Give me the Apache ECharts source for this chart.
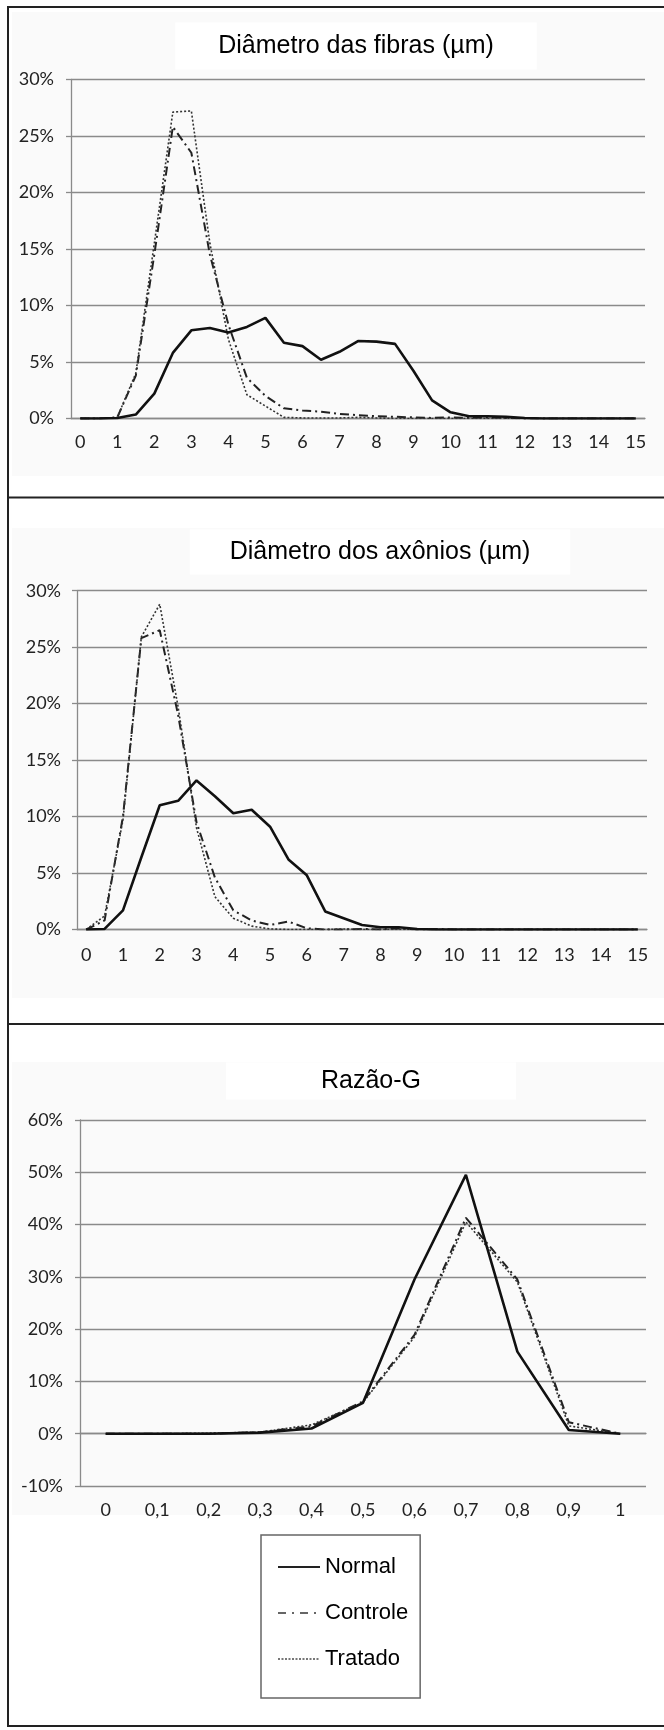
<!DOCTYPE html>
<html>
<head>
<meta charset="utf-8">
<script src="https://cdn.jsdelivr.net/npm/echarts@6/dist/echarts.min.js"></script>
<style>
  html, body { margin: 0; padding: 0; background: #fff; }
  #main { width: 664px; height: 1730px; }
</style>
</head>
<body>
<div id="main"></div>
<script>
// categories (µm in steps of 0.5, and g-ratio in steps of 0.1)
var halfSteps = ['0', '0,5', '1', '1,5', '2', '2,5', '3', '3,5', '4', '4,5', '5', '5,5',
  '6', '6,5', '7', '7,5', '8', '8,5', '9', '9,5', '10', '10,5', '11', '11,5', '12', '12,5',
  '13', '13,5', '14', '14,5', '15'];
var gCats = ['0', '0,1', '0,2', '0,3', '0,4', '0,5', '0,6', '0,7', '0,8', '0,9', '1'];

var seriesNames = ['Normal', 'Controle', 'Tratado'];

// Diâmetro das fibras (%)
var fibrasNormal = [0, 0, 0.05, 0.35, 2.2, 5.8, 7.8, 8.0, 7.6, 8.1, 8.9, 6.7, 6.4, 5.2, 5.9, 6.85,
  6.8, 6.6, 4.2, 1.6, 0.55, 0.2, 0.2, 0.15, 0.05, 0, 0, 0, 0, 0, 0];
var fibrasControle = [0, 0, 0.1, 3.8, 14.5, 25.8, 23.5, 14.5, 8.3, 3.6, 2.0, 0.9, 0.7, 0.6, 0.4, 0.3,
  0.2, 0.15, 0.1, 0.05, 0.1, 0.05, 0.1, 0.05, 0, 0, 0, 0, 0, 0, 0];
var fibrasTratado = [0, 0, 0.1, 4.0, 15.5, 27.1, 27.2, 15.5, 7.0, 2.1, 1.1, 0.1, 0.05, 0.05, 0.05, 0.1,
  0.05, 0, 0, 0, 0, 0, 0, 0, 0, 0, 0, 0, 0, 0, 0];

// Diâmetro dos axônios (%)
var axonNormal = [0, 0.05, 1.7, 6.4, 11.0, 11.4, 13.2, 11.8, 10.3, 10.6, 9.1, 6.2, 4.8, 1.6, 1.0, 0.4,
  0.2, 0.2, 0.05, 0, 0, 0, 0, 0, 0, 0, 0, 0, 0, 0, 0];
var axonControle = [0, 0.8, 10.0, 25.8, 26.5, 19.0, 9.5, 4.6, 1.7, 0.8, 0.4, 0.7, 0.1, 0, 0, 0.05,
  0, 0.1, 0, 0.05, 0, 0, 0, 0, 0, 0, 0, 0, 0, 0, 0];
var axonTratado = [0, 1.2, 9.7, 25.9, 28.8, 19.7, 9.0, 2.9, 1.0, 0.3, 0.05, 0, 0, 0, 0.05, 0,
  0, 0, 0, 0, 0, 0, 0, 0, 0, 0, 0, 0, 0, 0, 0];

// Razão-G (%)
var gNormal = [0, 0, 0, 0.2, 1.0, 5.9, 29.5, 49.5, 15.7, 0.7, 0];
var gControle = [0, 0, 0, 0.3, 1.4, 6.2, 18.9, 41.3, 29.5, 2.2, 0];
var gTratado = [0, 0, 0.1, 0.3, 1.7, 6.0, 18.5, 40.5, 29.0, 1.5, 0];

var titles = ['Diâmetro das fibras (µm)', 'Diâmetro dos axônios (µm)', 'Razão-G'];

var gridColor = '#8a8a8a';
var labelFont = 'Lato';
var titleFont = 'Liberation Sans';

var lineStyles = {
  Normal: { color: '#111', width: 2.6, type: 'solid' },
  Controle: { color: '#222', width: 2, type: [9, 4, 2, 4] },
  Tratado: { color: '#333', width: 1.6, type: [2, 2] }
};

function xAxis(idx, cats, labelInterval, margin) {
  return {
    type: 'category',
    gridIndex: idx,
    data: cats,
    boundaryGap: true,
    axisLine: { onZero: true, lineStyle: { color: gridColor, width: 1.3 } },
    axisTick: { interval: 0, length: 5, lineStyle: { color: gridColor, width: 1.3 } },
    axisLabel: { interval: labelInterval, margin: margin, color: '#222',
      fontFamily: labelFont, fontSize: 18 },
    splitLine: { show: false }
  };
}

function yAxis(idx, min, max, step, margin) {
  return {
    type: 'value',
    gridIndex: idx,
    min: min,
    max: max,
    interval: step,
    axisLine: { show: true, lineStyle: { color: gridColor, width: 1.3 } },
    axisTick: { show: true, length: 5, lineStyle: { color: gridColor, width: 1.3 } },
    axisLabel: { formatter: '{value}%', margin: margin, color: '#222',
      fontFamily: labelFont, fontSize: 18 },
    splitLine: { lineStyle: { color: gridColor, width: 1.3 } }
  };
}

function line(name, data, idx) {
  return {
    type: 'line',
    name: name,
    data: data,
    xAxisIndex: idx,
    yAxisIndex: idx,
    symbol: 'none',
    silent: true,
    lineStyle: lineStyles[name],
    z: name === 'Normal' ? 4 : 3
  };
}

// cx, cy: centre of the title text
function title(text, cx, cy, padH, padV) {
  return {
    text: text,
    left: cx - padH,
    top: cy - padV,
    textAlign: 'center',
    textVerticalAlign: 'middle',
    backgroundColor: '#fff',
    padding: [padV, padH, padV, padH],
    textStyle: { fontFamily: titleFont, fontSize: 25, fontWeight: 'normal', color: '#000' }
  };
}

function hline(y, x1, x2) {
  return { type: 'line', z: 100, shape: { x1: x1, y1: y, x2: x2, y2: y },
    style: { stroke: '#222', lineWidth: 2 } };
}

var option;

option = {
  animation: false,
  backgroundColor: '#fff',
  title: [
    title(titles[0], 356, 46, 43, 11),
    title(titles[1], 380, 552, 40, 10),
    title(titles[2], 371, 1081, 95, 6)
  ],
  graphic: [
    { type: 'rect', z: -10, shape: { x: 12, y: 12, width: 652, height: 464 }, style: { fill: '#fafafa' } },
    { type: 'rect', z: -10, shape: { x: 12, y: 528, width: 652, height: 470 }, style: { fill: '#fafafa' } },
    { type: 'rect', z: -10, shape: { x: 12, y: 1062, width: 652, height: 453 }, style: { fill: '#fafafa' } },
    hline(7, 7, 664),
    hline(497.5, 7, 664),
    hline(1024, 7, 664),
    hline(1726, 7, 664),
    { type: 'line', z: 100, shape: { x1: 8, y1: 6, x2: 8, y2: 1727 },
      style: { stroke: '#222', lineWidth: 2 } }
  ],
  legend: {
    orient: 'vertical',
    left: 261,
    top: 1535,
    padding: [21, 12, 28, 16],
    borderColor: '#666',
    borderWidth: 1.5,
    backgroundColor: '#fff',
    itemWidth: 42,
    itemHeight: 14,
    itemGap: 24,
    selectedMode: false,
    itemStyle: { opacity: 0 },
    textStyle: { fontFamily: titleFont, fontSize: 22, color: '#000' },
    data: [
      { name: 'Normal', itemStyle: { opacity: 0 }, lineStyle: { color: '#222' } },
      { name: 'Controle', itemStyle: { opacity: 0 }, lineStyle: { color: '#666', type: [8, 6, 2, 6] } },
      { name: 'Tratado', itemStyle: { opacity: 0 }, lineStyle: { color: '#777', type: [2, 1.5] } }
    ]
  },
  grid: [
    { left: 71, top: 79.3, width: 574, height: 339.2 },
    { left: 77, top: 590.7, width: 570, height: 338.8 },
    { left: 80, top: 1120, width: 566, height: 366 }
  ],
  xAxis: [
    xAxis(0, halfSteps, 1, 15),
    xAxis(1, halfSteps, 1, 17),
    xAxis(2, gCats, 0, 15)
  ],
  yAxis: [
    yAxis(0, 0, 30, 5, 17),
    yAxis(1, 0, 30, 5, 16),
    yAxis(2, -10, 60, 10, 17)
  ],
  series: [
    line('Normal', fibrasNormal, 0),
    line('Controle', fibrasControle, 0),
    line('Tratado', fibrasTratado, 0),
    line('Normal', axonNormal, 1),
    line('Controle', axonControle, 1),
    line('Tratado', axonTratado, 1),
    line('Normal', gNormal, 2),
    line('Controle', gControle, 2),
    line('Tratado', gTratado, 2)
  ]
};

var chartDom = document.getElementById('main');
var myChart = echarts.init(chartDom);
option && myChart.setOption(option);
</script>
</body>
</html>
